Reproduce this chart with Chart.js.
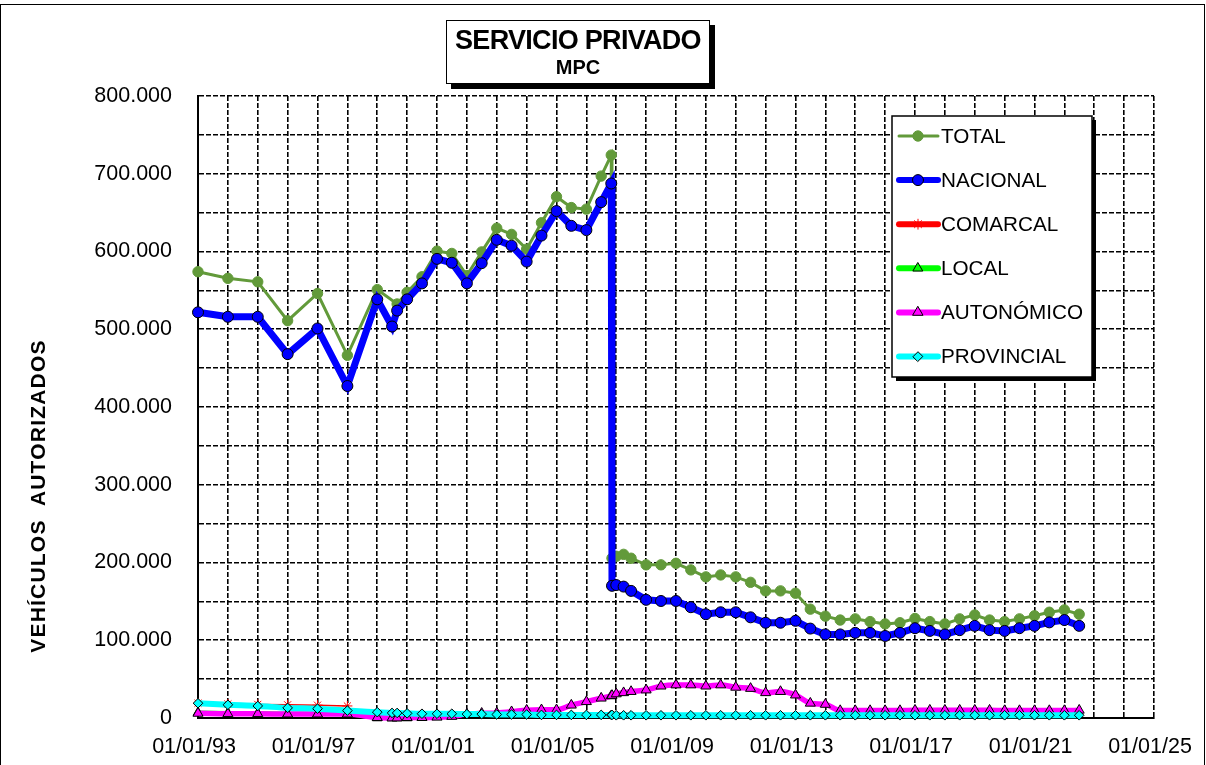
<!DOCTYPE html>
<html><head><meta charset="utf-8">
<script src="https://cdn.jsdelivr.net/npm/chart.js@4.4.1/dist/chart.umd.min.js"></script>
<style>
html,body{margin:0;padding:0;background:#fff;}
#wrap{position:relative;width:1206px;height:765px;overflow:hidden;font-family:Arial,'Liberation Sans',sans-serif;}
#c{position:absolute;left:0;top:0;}
#frame{position:absolute;left:0;top:4px;width:1203px;height:800px;border:1px solid #000;pointer-events:none;}
#title{position:absolute;left:446px;top:20px;width:262px;height:62px;border:1.5px solid #000;background:#fff;box-shadow:5px 5px 0 #000;text-align:center;}
#t1{position:absolute;left:0;right:0;top:4px;font-weight:bold;font-size:27px;letter-spacing:-0.7px;line-height:30px;}
#t2{position:absolute;left:0;right:0;top:35px;font-weight:bold;font-size:20px;line-height:22px;}
#ytitle{position:absolute;left:38px;top:496px;transform:translate(-50%,-50%) rotate(-90deg);white-space:pre;font-weight:bold;font-size:21px;letter-spacing:1.2px;}
</style></head>
<body>
<div id="wrap">
<canvas id="c" width="1206" height="765"></canvas>
<div id="frame"></div>
<div id="title"><div id="t1">SERVICIO PRIVADO</div><div id="t2">MPC</div></div>
<div id="ytitle">VEHÍCULOS  AUTORIZADOS</div>
</div>
<script>
const dates = ['1993-01-01','1994-01-01','1995-01-01','1996-01-01','1997-01-01','1998-01-01','1999-01-01','1999-07-01','1999-09-01','2000-01-01',
'2000-07-01','2001-01-01','2001-07-01','2002-01-01','2002-07-01','2003-01-01','2003-07-01','2004-01-01','2004-07-01','2005-01-01',
'2005-07-01','2006-01-01','2006-07-01','2006-11-01','2006-11-10','2007-01-01','2007-04-01','2007-07-01','2008-01-01','2008-07-01',
'2009-01-01','2009-07-01','2010-01-01','2010-07-01','2011-01-01','2011-07-01','2012-01-01','2012-07-01','2013-01-01','2013-07-01',
'2014-01-01','2014-07-01','2015-01-01','2015-07-01','2016-01-01','2016-07-01','2017-01-01','2017-07-01','2018-01-01','2018-07-01',
'2019-01-01','2019-07-01','2020-01-01','2020-07-01','2021-01-01','2021-07-01','2022-01-01','2022-07-01'];

const total = [574000,565500,561000,511000,546000,466500,551000,null,532500,547500,
567500,600500,597500,569000,599500,630000,622000,603000,637000,670500,
656500,654500,697000,724000,205500,208000,210500,205500,197000,197000,
199000,190500,181500,184000,181500,174500,163500,163500,160500,140000,
131000,126000,127500,124000,121000,122500,128000,124000,121000,127500,
132500,126000,124000,127500,131500,136000,139000,133500];

const nacional = [521800,516000,516000,468000,501000,427000,538500,503500,524000,538500,
559000,590500,585500,559000,585000,615000,607500,587000,620500,652000,
633000,627500,663500,687500,170000,171000,169000,163500,152000,150500,
150500,142500,133500,136000,136000,129500,122500,122500,125000,115000,
107500,107500,109500,109500,105500,109500,115500,112000,107500,113000,
118500,113000,112000,115500,118500,123000,126000,118500];

const comarcal = [19000,18000,17500,17000,16500,15500];

const local = [7000,6500,6000,5500,5500,5000,0,0,0,0];

const autonomico = [6000,5500,5500,5000,5000,5000,500,0,0,500,
500,1000,2000,5000,6000,6500,8000,10000,10500,10500,
16500,21000,25500,28500,29000,31000,32500,34000,36000,41000,
42500,42500,41000,42500,39500,38000,32500,34000,29500,19000,
17500,9500,9500,9500,9500,9500,10000,10000,10000,10000,
10000,10000,9500,9500,9500,9500,9500,10000];

const provincial = [19000,17000,15500,13000,12000,9500,7500,6500,6500,6000,
5500,5500,5500,5000,5000,4500,4500,4500,4000,4000,
4000,4000,4000,4000,4000,3500,3500,3500,3500,3500,
3500,3500,3500,3500,3500,3500,3500,3500,3500,3500,
3500,3500,3500,3500,3500,3500,3500,3500,3500,3500,
3500,3500,3500,3500,3500,3500,3500,3500];

const xTickYears = [1993,1997,2001,2005,2009,2013,2017,2021,2025];
const xTickLabels = ['01/01/93','01/01/97','01/01/01','01/01/05','01/01/09','01/01/13','01/01/17','01/01/21','01/01/25'];
const yTickValues = [0,100000,200000,300000,400000,500000,600000,700000,800000];
const yTickLabels = ['0','100.000','200.000','300.000','400.000','500.000','600.000','700.000','800.000'];

function fracYear(s){
  const [y,m,d] = s.split('-').map(Number);
  const a = Date.UTC(y,0,1), b = Date.UTC(y+1,0,1);
  return y + (Date.UTC(y,m-1,d)-a)/(b-a);
}
function pts(vals){ return vals.map((v,i)=>({x:fracYear(dates[i]), y:v})); }

const FONT = "Arial, 'Liberation Sans', sans-serif";

const legendPlugin = {
  id:'boxLegend',
  afterDraw(chart){
    const ctx = chart.ctx;
    const bx=892, by=116, bw=200, bh=261;
    ctx.save();
    ctx.setLineDash([]);
    ctx.fillStyle='#000'; ctx.fillRect(bx+4,by+4,bw,bh);
    ctx.fillStyle='#fff'; ctx.fillRect(bx,by,bw,bh);
    ctx.strokeStyle='#000'; ctx.lineWidth=1.5; ctx.strokeRect(bx,by,bw,bh);
    chart.data.datasets.forEach((ds,i)=>{
      const y = 136 + i*44.1;
      ctx.strokeStyle = ds.borderColor; ctx.lineWidth = ds.legendLineWidth;
      ctx.lineCap='round';
      ctx.beginPath(); ctx.moveTo(899,y); ctx.lineTo(938,y); ctx.stroke();
      ctx.fillStyle = ds.pointBackgroundColor; ctx.strokeStyle = ds.pointBorderColor; ctx.lineWidth = ds.pointBorderWidth;
      Chart.helpers.drawPoint(ctx,{pointStyle:ds.pointStyle,radius:ds.pointRadius,rotation:0,borderWidth:ds.pointBorderWidth},918,y);
      ctx.fillStyle='#000'; ctx.font='20.7px '+FONT; ctx.textBaseline='middle'; ctx.textAlign='left';
      ctx.fillText(ds.label, 941, y+1);
    });
    ctx.restore();
  }
};

const common = {clip:false, spanGaps:true, tension:0};

new Chart(document.getElementById('c'), {
  type:'line',
  data:{datasets:[
    {...common, label:'TOTAL', data:pts(total), borderColor:'#629A3A', borderWidth:3, legendLineWidth:3,
      pointStyle:'circle', pointRadius:5.2, pointBackgroundColor:'#629A3A', pointBorderColor:'#629A3A', pointBorderWidth:1, order:6},
    {...common, label:'NACIONAL', data:pts(nacional), borderColor:'#0000FF', borderWidth:7, legendLineWidth:6,
      pointStyle:'circle', pointRadius:5.5, pointBackgroundColor:'#0000FF', pointBorderColor:'#000', pointBorderWidth:1, order:5},
    {...common, label:'COMARCAL', data:pts(comarcal), borderColor:'#FF0000', borderWidth:1.5, legendLineWidth:6,
      pointStyle:'star', pointRadius:5, pointBackgroundColor:'#FF0000', pointBorderColor:'#FF0000', pointBorderWidth:1, order:4},
    {...common, label:'LOCAL', data:pts(local), borderColor:'#00FF00', borderWidth:4, legendLineWidth:6,
      pointStyle:'triangle', pointRadius:5.5, pointBackgroundColor:'#00FF00', pointBorderColor:'#000', pointBorderWidth:1, order:3},
    {...common, label:'AUTONÓMICO', data:pts(autonomico), borderColor:'#FF00FF', borderWidth:5.5, legendLineWidth:6,
      pointStyle:'triangle', pointRadius:5.8, pointBackgroundColor:'#FF00FF', pointBorderColor:'#000', pointBorderWidth:1, order:2,
      cubicInterpolationMode:'monotone'},
    {...common, label:'PROVINCIAL', data:pts(provincial), borderColor:'#00FFFF', borderWidth:6, legendLineWidth:6,
      pointStyle:'rectRot', pointRadius:4.8, pointBackgroundColor:'#00FFFF', pointBorderColor:'#000', pointBorderWidth:1, order:1,
      cubicInterpolationMode:'monotone'}
  ]},
  options:{
    responsive:false, animation:false, devicePixelRatio:1,
    layout:{padding:{left:0, top:96, right:52, bottom:0}},
    plugins:{legend:{display:false}, tooltip:{enabled:false}, title:{display:false}},
    scales:{
      x:{type:'linear', min:1993, max:2025,
        afterBuildTicks(s){ const t=[]; for(let v=1993; v<=2025; v++) t.push({value:v}); s.ticks=t; },
        afterFit(s){ s.height = 47; s.paddingLeft = 0; s.paddingRight = 0; },
        grid:{color:'#000', lineWidth:1.6, drawTicks:false},
        border:{display:true, color:'#000', width:2, dash:[5,2]},
        ticks:{autoSkip:false, maxRotation:0, minRotation:0, padding:16, labelOffset:-4, color:'#000',
          font:{family:FONT, size:21.5},
          callback(v){ const i = xTickYears.indexOf(v); return i>=0 ? xTickLabels[i] : ''; }}
      },
      y:{type:'linear', min:0, max:800000,
        afterBuildTicks(s){ const t=[]; for(let v=0; v<=800000; v+=50000) t.push({value:v}); s.ticks=t; },
        afterFit(s){ s.width = 198; s.paddingTop = 0; s.paddingBottom = 0; },
        grid:{color:'#000', lineWidth:1.6, drawTicks:false},
        border:{display:true, color:'#000', width:2, dash:[5,2]},
        ticks:{padding:26, color:'#000', font:{family:FONT, size:21.5},
          callback(v){ const i = yTickValues.indexOf(v); return i>=0 ? yTickLabels[i] : ''; }}
      }
    }
  },
  plugins:[legendPlugin]
});
</script>
</body></html>
